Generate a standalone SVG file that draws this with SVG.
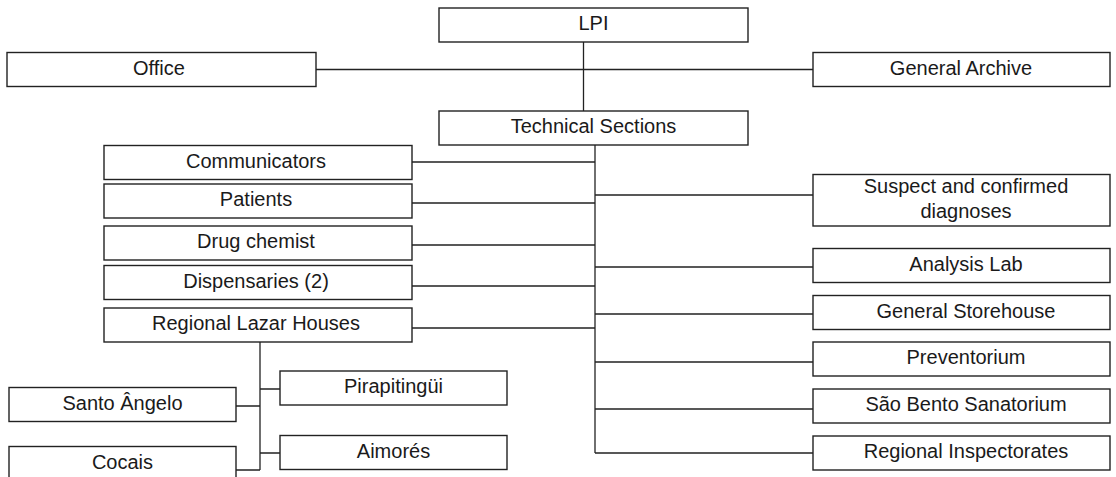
<svg xmlns="http://www.w3.org/2000/svg" width="1116" height="477" viewBox="0 0 1116 477">
<style>
.box{fill:#fff;stroke:#222;stroke-width:1.4}
.ln{fill:none;stroke:#222;stroke-width:1.3}
text{font-family:"Liberation Sans",Arial,sans-serif;font-size:20px;fill:#1a1a1a;text-anchor:middle}
</style>
<rect width="1116" height="477" fill="#fff"/>
<g id="connectors">
<path class="ln" d="M583.5 42V111M316 69.5H813"/>
<path class="ln" d="M595 145V453"/>
<path class="ln" d="M412 162H595M412 203H595M412 245H595M412 286H595M412 328H595"/>
<path class="ln" d="M595 195H813M595 267H813M595 314H813M595 362H813M595 409H813M595 453H813"/>
<path class="ln" d="M260 342V470M260 389H280M236 406H260M260 453H280M236 470H260"/>
</g>
<g id="lpi"><rect class="box" x="439" y="8" width="309" height="34"/><text x="593.5" y="30">LPI</text></g>
<g id="office"><rect class="box" x="7" y="52.5" width="309" height="34"/><text x="159" y="74.5">Office</text></g>
<g id="archive"><rect class="box" x="813" y="52.5" width="297" height="34"/><text x="961" y="74.5">General Archive</text></g>
<g id="technical"><rect class="box" x="439" y="111" width="309" height="34"/><text x="593.5" y="133">Technical Sections</text></g>
<g id="communicators"><rect class="box" x="104" y="145.5" width="308" height="34"/><text x="256" y="167.5">Communicators</text></g>
<g id="patients"><rect class="box" x="104" y="184" width="308" height="34"/><text x="256" y="206">Patients</text></g>
<g id="drug"><rect class="box" x="104" y="226" width="308" height="34"/><text x="256" y="248">Drug chemist</text></g>
<g id="dispensaries"><rect class="box" x="104" y="265.5" width="308" height="34"/><text x="256" y="287.5">Dispensaries (2)</text></g>
<g id="lazar"><rect class="box" x="104" y="308" width="308" height="34"/><text x="256" y="330">Regional Lazar Houses</text></g>
<g id="suspect"><rect class="box" x="813" y="174.5" width="297" height="51.5"/><text x="966" y="193">Suspect and confirmed</text><text x="966" y="217.5">diagnoses</text></g>
<g id="analysis"><rect class="box" x="813" y="248.5" width="297" height="34"/><text x="966" y="270.5">Analysis Lab</text></g>
<g id="storehouse"><rect class="box" x="813" y="295.5" width="297" height="34"/><text x="966" y="317.5">General Storehouse</text></g>
<g id="preventorium"><rect class="box" x="813" y="342" width="297" height="34"/><text x="966" y="364">Preventorium</text></g>
<g id="saobento"><rect class="box" x="813" y="389" width="297" height="34"/><text x="966" y="411">São Bento Sanatorium</text></g>
<g id="inspectorates"><rect class="box" x="813" y="436" width="297" height="34"/><text x="966" y="458">Regional Inspectorates</text></g>
<g id="pirapitingui"><rect class="box" x="280" y="371" width="227" height="34"/><text x="393.5" y="393">Pirapitingüi</text></g>
<g id="santoangelo"><rect class="box" x="9" y="387.5" width="227" height="34"/><text x="122.5" y="409.5">Santo Ângelo</text></g>
<g id="aimores"><rect class="box" x="280" y="435.5" width="227" height="34"/><text x="393.5" y="457.5">Aimorés</text></g>
<g id="cocais"><rect class="box" x="9" y="446.5" width="227" height="34"/><text x="122.5" y="468.5">Cocais</text></g>
</svg>
